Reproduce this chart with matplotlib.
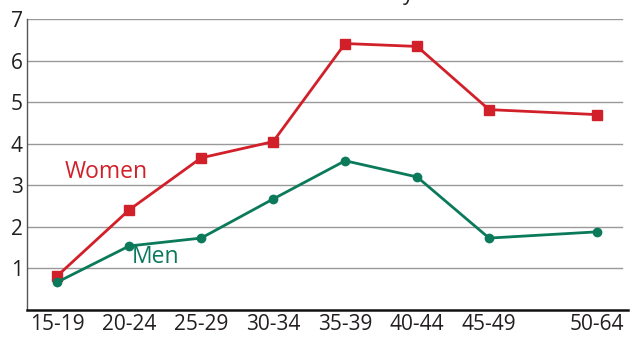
import numpy as np
import matplotlib.pyplot as plt

ages = ['15-19', '20-24', '25-29', '30-34', '35-39', '40-44', '45-49', '50-64']
xpos = [0, 1, 2, 3, 4, 5, 6, 7.5]
women = [0.82, 2.41, 3.66, 4.05, 6.41, 6.34, 4.82, 4.70]
men = [0.67, 1.54, 1.73, 2.67, 3.59, 3.20, 1.73, 1.88]
yticks = [1, 2, 3, 4, 5, 6, 7]

red = '#d2202a'
green = '#0b7a5b'

plt.rcParams['font.family'] = ['Open Sans', 'DejaVu Sans']

fig = plt.figure(figsize=(6.34, 3.37), dpi=100)
ax = fig.add_axes([27/634, 27/337, 601/634, 291/337])

ax.set_xlim(-0.42, 7.93)
ax.set_ylim(0, 7)

# horizontal grid
for v in yticks:
    ax.axhline(v, xmin=0, xmax=0.99, color='#999999', lw=1.0, zorder=1)

ax.plot(xpos, women, color=red, lw=2.0, marker='s', ms=7, zorder=3)
ax.plot(xpos, men, color=green, lw=2.0, marker='o', ms=6, zorder=3)

ax.text(0.1, 3.33, 'Women', color=red, fontsize=16.5, ha='left', va='center')
ax.text(1.04, 1.28, 'Men', color=green, fontsize=16.5, ha='left', va='center')

ax.set_xticks(xpos)
ax.set_xticklabels(ages, fontsize=15, color='#231f20')
ax.set_yticks(yticks)
ax.set_yticklabels([str(v) for v in yticks], fontsize=15, color='#231f20')
ax.tick_params(axis='x', length=0, pad=3)
ax.tick_params(axis='y', length=0, pad=3)

for s in ['top', 'right']:
    ax.spines[s].set_visible(False)
ax.spines['left'].set_color('#555555')
ax.spines['left'].set_linewidth(1.0)
ax.spines['bottom'].set_color('#111111')
ax.spines['bottom'].set_linewidth(1.8)

# title sits above the frame, only its descender shows
fig.text(403/634, 1.0, 'y', fontsize=15, color='#231f20', ha='left', va='baseline')

fig.savefig('out.png', dpi=100)
